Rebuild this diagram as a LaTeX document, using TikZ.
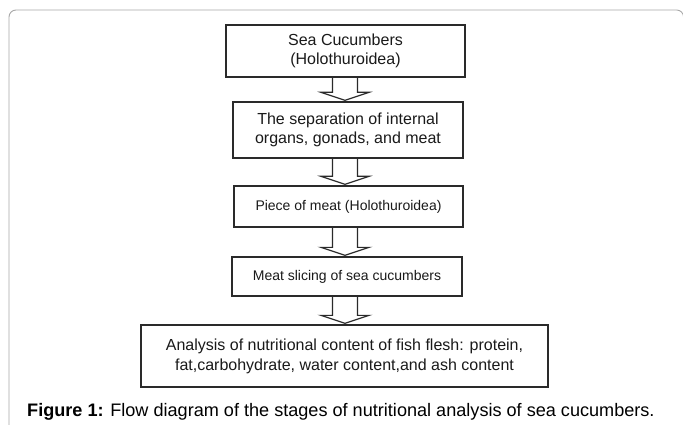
\documentclass[tikz,border=0pt]{standalone}
\usepackage{fontspec}
\setmainfont{Liberation Sans}
\usetikzlibrary{calc}
\definecolor{boxline}{HTML}{2A2A2A}
\definecolor{framegray}{HTML}{A8A8A8}
\definecolor{boxtext}{HTML}{1A1A1A}
\begin{document}
\begin{tikzpicture}[x=1pt,y=-1pt,
  stepbox/.style={draw=boxline, line width=1.3pt, fill=white, align=center,
    inner sep=0pt, text=boxtext},
  bigtext/.style={font=\fontsize{16}{19}\selectfont},
  widetext/.style={font=\fontsize{16}{20}\selectfont},
  smalltext/.style={font=\fontsize{14}{17}\selectfont},
  blockarrow/.style={draw=boxline, line width=1.2pt, line join=miter}
]
\useasboundingbox (0,0) rectangle (683,425);
\fill[white] (0,0) rectangle (683,425);
% outer frame
\draw[framegray, line width=0.9pt, rounded corners=7pt]
  (9,450) -- (9,10) -- (683.6,10) -- (683.6,450);
% boxes
\node[stepbox, bigtext, minimum width=239pt, minimum height=52pt] (b1) at (345.5,51)
  {Sea Cucumbers\\(Holothuroidea)};
\node[stepbox, bigtext, minimum width=230pt, minimum height=56pt] (b2) at (348,130)
  {The separation of internal\\organs, gonads, and meat};
\node[stepbox, smalltext, minimum width=229pt, minimum height=41pt] (b3) at (348.5,206.5)
  {Piece of meat (Holothuroidea)};
\node[stepbox, smalltext, minimum width=230pt, minimum height=39pt] (b4) at (347,276.5)
  {Meat slicing of sea cucumbers};
\node[stepbox, widetext, minimum width=407pt, minimum height=62pt] (b5) at (344.5,356)
  {Analysis of nutritional content of fish flesh: protein,\\fat,carbohydrate, water content,and ash content};
% arrow axis
\coordinate (ax) at (345,0);
\foreach \u/\v in {b1/b2, b2/b3, b3/b4, b4/b5}{
  \draw[blockarrow] let \p1=(ax |- \u.south), \p2=(ax |- \v.north) in
    (\x1-12.5pt,\y1) -- (\x1-12.5pt,\y2+9pt) -- (\x1-24pt,\y2+9pt) -- (\x1,\y2+1pt)
    -- (\x1+24pt,\y2+9pt) -- (\x1+12.5pt,\y2+9pt) -- (\x1+12.5pt,\y1);
}
% caption
\node[anchor=base west, inner sep=0pt, font=\fontsize{18.1}{21}\selectfont] (cap) at (27,416.5)
  {\textbf{Figure 1:} Flow diagram of the stages of nutritional analysis of sea cucumbers.};
\end{tikzpicture}
\end{document}
